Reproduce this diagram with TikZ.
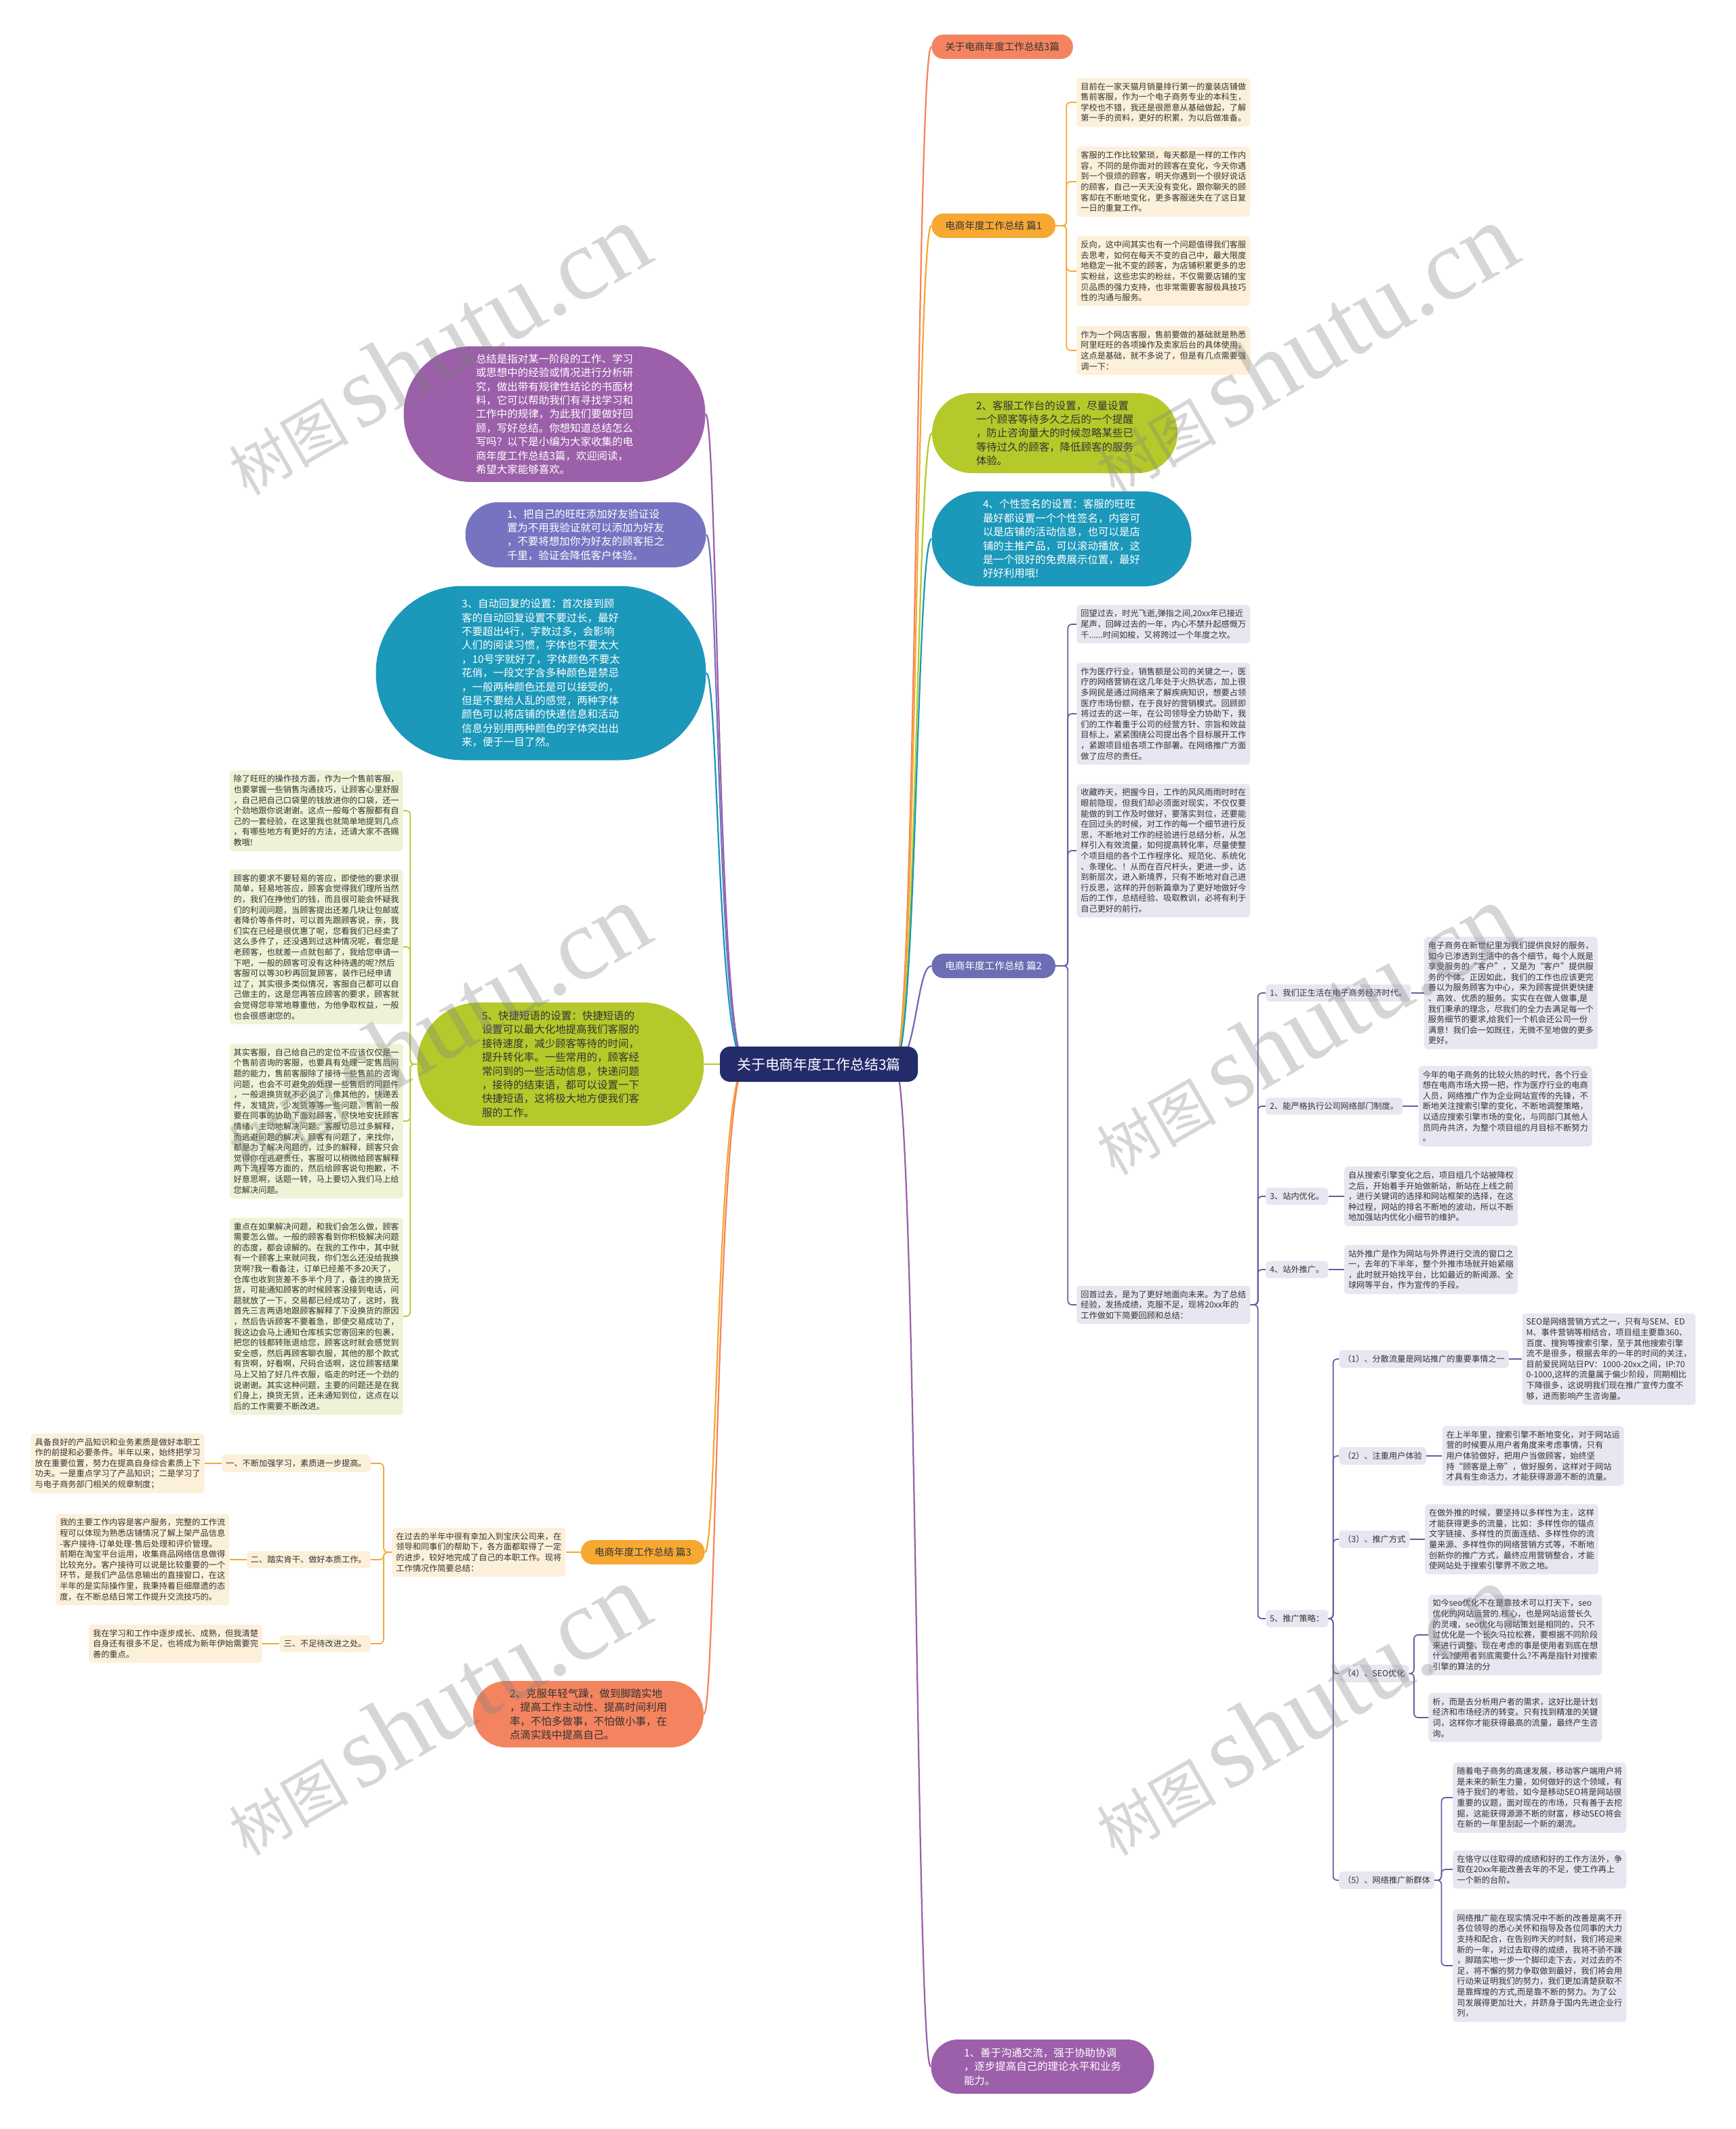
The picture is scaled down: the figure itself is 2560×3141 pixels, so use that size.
\documentclass[tikz,border=0pt]{standalone}
\usepackage{fontspec}
\setmainfont{Noto Sans CJK SC}
\newfontfamily\wmfont{Liberation Serif}
\usepackage{xcolor}
\usetikzlibrary{positioning, backgrounds}

\definecolor{rootblue}{HTML}{242B6B}
\definecolor{coral}{HTML}{F4845F}
\definecolor{amber}{HTML}{F6A833}
\definecolor{lime}{HTML}{B5C92B}
\definecolor{seablue}{HTML}{1B98BA}
\definecolor{slate}{HTML}{6C6EB3}
\definecolor{slateline}{HTML}{5E609E}
\definecolor{plum}{HTML}{9C5FA9}
\definecolor{iris}{HTML}{7674C1}
\definecolor{cream}{HTML}{FDF0DA}
\definecolor{lilac}{HTML}{E7E7F2}
\definecolor{paleLime}{HTML}{F0F2D7}
\definecolor{ink}{HTML}{333333}

\begin{document}
\begin{tikzpicture}[x=0.2mm, y=-0.2mm,
  note/.style={font=\fontsize{6.94pt}{8.88pt}\selectfont, align=left, inner xsep=1.2mm, inner ysep=1.4mm, rounded corners=1mm, text=ink},
  branch/.style={font=\fontsize{8.3pt}{10pt}\selectfont, rounded corners=3.5mm, minimum height=7.2mm, inner xsep=4mm, inner ysep=0mm},
  bubble/.style={font=\fontsize{8.8pt}{11.6pt}\selectfont, align=left, inner sep=0pt},
  link/.style={line width=0.45mm},
  brace/.style={line width=0.35mm, rounded corners=1.2mm},
  node distance=4.4mm
]
  \useasboundingbox (0,0) rectangle (2560,3141);

  \node[fill=rootblue, text=white, font=\fontsize{11.9pt}{14pt}\selectfont, rounded corners=3mm, minimum width=58.4mm, minimum height=10.4mm] (root) at (1208,1570) {关于电商年度工作总结3篇};

  % right side
  \node[branch, fill=coral, text=ink, anchor=west] (title) at (1374,69) {关于电商年度工作总结3篇};
  \node[branch, fill=amber, text=ink, anchor=west] (pian1) at (1374,333) {电商年度工作总结 篇1};
  \node[note, fill=cream, anchor=west] (n1a) at (1588,151) {目前在一家天猫月销量排行第一的童装店铺做\\售前客服，作为一个电子商务专业的本科生，\\学校也不错，我还是很愿意从基础做起，了解\\第一手的资料，更好的积累，为以后做准备。};
  \node[note, fill=cream, anchor=west] (n1b) at (1588,268) {客服的工作比较繁琐，每天都是一样的工作内\\容，不同的是你面对的顾客在变化，今天你遇\\到一个很烦的顾客，明天你遇到一个很好说话\\的顾客，自己一天天没有变化，跟你聊天的顾\\客却在不断地变化，更多客服迷失在了这日复\\一日的重复工作。};
  \node[note, fill=cream, anchor=west] (n1c) at (1588,400) {反向，这中间其实也有一个问题值得我们客服\\去思考，如何在每天不变的自己中，最大限度\\地稳定一批不变的顾客，为店铺积累更多的忠\\实粉丝，这些忠实的粉丝，不仅需要店铺的宝\\贝品质的强力支持，也非常需要客服极具技巧\\性的沟通与服务。};
  \node[note, fill=cream, anchor=west] (n1d) at (1588,517) {作为一个网店客服，售前要做的基础就是熟悉\\阿里旺旺的各项操作及卖家后台的具体使用，\\这点是基础，就不多说了，但是有几点需要强\\调一下：};

  \node[bubble, fill=lime, text=ink, minimum width=72.4mm, minimum height=23.6mm, rounded corners=11.7mm] (desk) at (1556,639) {2、客服工作台的设置，尽量设置\\一个顾客等待多久之后的一个提醒\\，防止咨询量大的时候忽略某些已\\等待过久的顾客，降低顾客的服务\\体验。};
  \node[bubble, fill=seablue, text=white, minimum width=76.6mm, minimum height=28mm, rounded corners=13.9mm] (sign) at (1566,795) {4、个性签名的设置：客服的旺旺\\最好都设置一个个性签名，内容可\\以是店铺的活动信息，也可以是店\\铺的主推产品，可以滚动播放，这\\是一个很好的免费展示位置，最好\\好好利用哦!};

  \node[branch, fill=slate, text=white, anchor=west] (pian2) at (1374,1425) {电商年度工作总结 篇2};
  \node[note, fill=lilac, anchor=west] (n2a) at (1588,921) {回望过去，时光飞逝,弹指之间,20xx年已接近\\尾声，回眸过去的一年，内心不禁升起感慨万\\千......时间如梭，又将跨过一个年度之坎。};
  \node[note, fill=lilac, anchor=west] (n2b) at (1588,1053) {作为医疗行业，销售额是公司的关键之一，医\\疗的网络营销在这几年处于火热状态，加上很\\多网民是通过网络来了解疾病知识，想要占领\\医疗市场份额，在于良好的营销模式。回顾即\\将过去的这一年，在公司领导全力协助下，我\\们的工作着重于公司的经营方针、宗旨和效益\\目标上，紧紧围绕公司提出各个目标展开工作\\，紧跟项目组各项工作部署。在网络推广方面\\做了应尽的责任。};
  \node[note, fill=lilac, anchor=west] (n2c) at (1588,1255) {收藏昨天，把握今日，工作的风风雨雨时时在\\眼前隐现，但我们却必须面对现实，不仅仅要\\能做的到工作及时做好，要落实到位，还要能\\在回过头的时候，对工作的每一个细节进行反\\思，不断地对工作的经验进行总结分析，从怎\\样引入有效流量，如何提高转化率，尽量使整\\个项目组的各个工作程序化、规范化、系统化\\、条理化、！从而在百尺杆头，更进一步，达\\到新层次，进入新境界，只有不断地对自己进\\行反思，这样的开创新篇章为了更好地做好今\\后的工作，总结经验、吸取教训，必将有利于\\自己更好的前行。};
  \node[note, fill=lilac, anchor=west] (n2d) at (1588,1925) {回首过去，是为了更好地面向未来。为了总结\\经验，发扬成绩，克服不足，现将20xx年的\\工作做如下简要回顾和总结：};

  \node[note, fill=lilac, anchor=west] (e1) at (1867,1465) {1、我们正生活在电子商务经济时代。};
  \node[note, fill=lilac, right=3.8mm of e1] (e1t) {电子商务在新世纪里为我们提供良好的服务，\\如今已渗透到生活中的各个细节，每个人既是\\享受服务的“客户”，又是为“客户”提供服\\务的个体。正因如此，我们的工作也应该更完\\善以为服务顾客为中心，来为顾客提供更快捷\\、高效、优质的服务。实实在在做人做事,是\\我们秉承的理念，尽我们的全力去满足每一个\\服务细节的要求,给我们一个机会还公司一份\\满意！我们会一如既往，无微不至地做的更多\\更好。};
  \node[note, fill=lilac, anchor=west] (e2) at (1867,1632) {2、能严格执行公司网络部门制度。};
  \node[note, fill=lilac, right=4.6mm of e2] (e2t) {今年的电子商务的比较火热的时代，各个行业\\想在电商市场大捞一把，作为医疗行业的电商\\人员，网络推广作为企业网站宣传的先锋，不\\断地关注搜索引擎的变化，不断地调整策略，\\以适应搜索引擎市场的变化，与同部门其他人\\员同舟共济，为整个项目组的月目标不断努力\\。};
  \node[note, fill=lilac, anchor=west] (e3) at (1867,1765) {3、站内优化。};
  \node[note, fill=lilac, right=4.6mm of e3] (e3t) {自从搜索引擎变化之后，项目组几个站被降权\\之后，开始着手开始做新站，新站在上线之前\\，进行关键词的选择和网站框架的选择，在这\\种过程，网站的排名不断地的波动，所以不断\\地加强站内优化小细节的维护。};
  \node[note, fill=lilac, anchor=west] (e4) at (1867,1873) {4、站外推广。};
  \node[note, fill=lilac, right=4.6mm of e4] (e4t) {站外推广是作为网站与外界进行交流的窗口之\\一，去年的下半年，整个外推市场就开始紧缩\\，此时就开始找平台，比如最近的新闻源、全\\球网等平台，作为宣传的手段。};
  \node[note, fill=lilac, anchor=west] (e5) at (1867,2388) {5、推广策略：};

  \node[note, fill=lilac, anchor=west] (s1) at (1975,2005) {（1）、分散流量是网站推广的重要事情之一};
  \node[note, fill=lilac, right=3.8mm of s1] (s1t) {SEO是网络营销方式之一，只有与SEM、ED\\M、事件营销等相结合，项目组主要靠360、\\百度、搜狗等搜索引擎，至于其他搜索引擎\\流不是很多，根据去年的一年的时间的关注，\\目前爱民网站日PV：1000-20xx之间，IP:70\\0-1000,这样的流量属于偏少阶段，同期相比\\下降很多，这说明我们现在推广宣传力度不\\够，进而影响产生咨询量。};
  \node[note, fill=lilac, anchor=west] (s2) at (1975,2148) {（2）、注重用户体验};
  \node[note, fill=lilac, right=4.6mm of s2] (s2t) {在上半年里，搜索引擎不断地变化，对于网站运\\营的时候要从用户者角度来考虑事情，只有\\用户体验做好，把用户当做顾客，始终坚\\持“顾客是上帝”，做好服务，这样对于网站\\才具有生命活力，才能获得源源不断的流量。};
  \node[note, fill=lilac, anchor=west] (s3) at (1975,2271) {（3）、推广方式};
  \node[note, fill=lilac, right=4.4mm of s3] (s3t) {在做外推的时候，要坚持以多样性为主，这样\\才能获得更多的流量，比如：多样性你的锚点\\文字链接、多样性的页面连结、多样性你的流\\量来源、多样性你的网络营销方式等，不断地\\创新你的推广方式，最终应用营销整合，才能\\使网站处于搜索引擎界不败之地。};
  \node[note, fill=lilac, anchor=west] (s4) at (1975,2469) {（4）、SEO优化};
  \node[note, fill=lilac, anchor=west] (s4a) at (2107,2412) {如今seo优化不在是靠技术可以打天下，seo\\优化的网站运营的.核心，也是网站运营长久\\的灵魂，seo优化与网站策划是相同的，只不\\过优化是一个长久马拉松赛，要根据不同阶段\\来进行调整，现在考虑的事是使用者到底在想\\什么?使用者到底需要什么?不再是指针对搜索\\引擎的算法的分};
  \node[note, fill=lilac, anchor=west] (s4b) at (2107,2534) {析，而是去分析用户者的需求，这好比是计划\\经济和市场经济的转变。只有找到精准的关键\\词，这样你才能获得最高的流量，最终产生咨\\询。};
  \node[note, fill=lilac, anchor=west] (s5) at (1975,2774) {（5）、网络推广新群体};
  \node[note, fill=lilac, anchor=west] (s5a) at (2143,2652) {随着电子商务的高速发展，移动客户端用户将\\是未来的新生力量，如何做好的这个领域，有\\待于我们的考验，如今是移动SEO将是网站很\\重要的议题，面对现在的市场，只有善于去挖\\掘，这能获得源源不断的财富，移动SEO将会\\在新的一年里刮起一个新的潮流。};
  \node[note, fill=lilac, anchor=west] (s5b) at (2143,2758) {在恪守以往取得的成绩和好的工作方法外，争\\取在20xx年能改善去年的不足，使工作再上\\一个新的台阶。};
  \node[note, fill=lilac, anchor=west] (s5c) at (2143,2900) {网络推广能在现实情况中不断的改善是离不开\\各位领导的悉心关怀和指导及各位同事的大力\\支持和配合，在告别昨天的时刻，我们将迎来\\新的一年，对过去取得的成绩，我将不骄不躁\\，脚踏实地一步一个脚印走下去，对过去的不\\足，将不懈的努力争取做到最好，我们将会用\\行动来证明我们的努力，我们更加清楚获取不\\是靠辉煌的方式,而是靠不断的努力。为了公\\司发展得更加壮大，并跻身于国内先进企业行\\列，};

  \node[bubble, fill=plum, text=white, minimum width=65.8mm, minimum height=16mm, rounded corners=7.9mm] (skill) at (1538,3049) {1、善于沟通交流，强于协助协调\\，逐步提高自己的理论水平和业务\\能力。};

  % left side
  \node[bubble, fill=plum, text=white, minimum width=89mm, minimum height=40mm, rounded corners=19.9mm] (intro) at (818,611) {总结是指对某一阶段的工作、学习\\或思想中的经验或情况进行分析研\\究，做出带有规律性结论的书面材\\料，它可以帮助我们有寻找学习和\\工作中的规律，为此我们要做好回\\顾，写好总结。你想知道总结怎么\\写吗？以下是小编为大家收集的电\\商年度工作总结3篇，欢迎阅读，\\希望大家能够喜欢。};
  \node[bubble, fill=iris, text=white, minimum width=71mm, minimum height=19.2mm, rounded corners=9.5mm] (friend) at (864,789) {1、把自己的旺旺添加好友验证设\\置为不用我验证就可以添加为好友\\，不要将想加你为好友的顾客拒之\\千里，验证会降低客户体验。};
  \node[bubble, fill=seablue, text=white, minimum width=97.4mm, minimum height=51.4mm, rounded corners=25.6mm] (reply) at (798,993) {3、自动回复的设置：首次接到顾\\客的自动回复设置不要过长，最好\\不要超出4行，字数过多，会影响\\人们的阅读习惯，字体也不要太大\\，10号字就好了，字体颜色不要太\\花俏，一段文字含多种颜色是禁忌\\，一般两种颜色还是可以接受的，\\但是不要给人乱的感觉，两种字体\\颜色可以将店铺的快递信息和活动\\信息分别用两种颜色的字体突出出\\来，便于一目了然。};
  \node[bubble, fill=lime, text=ink, minimum width=84.6mm, minimum height=36.4mm, rounded corners=18.1mm] (quick) at (827,1570) {5、快捷短语的设置：快捷短语的\\设置可以最大化地提高我们客服的\\接待速度，减少顾客等待的时间，\\提升转化率。一些常用的，顾客经\\常问到的一些活动信息，快递问题\\，接待的结束语，都可以设置一下\\快捷短语，这将极大地方便我们客\\服的工作。};

  \node[note, fill=paleLime, anchor=east] (q1) at (595,1196) {除了旺旺的操作技方面，作为一个售前客服，\\也要掌握一些销售沟通技巧，让顾客心里舒服\\，自己把自己口袋里的钱放进你的口袋，还一\\个劲地跟你说谢谢。这点一般每个客服都有自\\己的一套经验，在这里我也就简单地提到几点\\，有哪些地方有更好的方法，还请大家不吝赐\\教哦!};
  \node[note, fill=paleLime, anchor=east] (q2) at (595,1397) {顾客的要求不要轻易的答应，即使他的要求很\\简单，轻易地答应，顾客会觉得我们理所当然\\的，我们在挣他们的钱，而且很可能会怀疑我\\们的利润问题，当顾客提出还差几块让包邮或\\者降价等条件时，可以首先跟顾客说，亲，我\\们实在已经是很优惠了呢，您看我们已经卖了\\这么多件了，还没遇到过这种情况呢，看您是\\老顾客，也就差一点就包邮了，我给您申请一\\下吧，一般的顾客可没有这种待遇的呢?然后\\客服可以等30秒再回复顾客，装作已经申请\\过了，其实很多类似情况，客服自己都可以自\\己做主的，这是您再答应顾客的要求，顾客就\\会觉得您非常地尊重他，为他争取权益，一般\\也会很感谢您的。};
  \node[note, fill=paleLime, anchor=east] (q3) at (595,1654) {其实客服，自己给自己的定位不应该仅仅是一\\个售前咨询的客服，也要具有处理一定售后问\\题的能力，售前客服除了接待一些售前的咨询\\问题，也会不可避免的处理一些售后的问题件\\，一般退换货就不必说了，像其他的，快递丢\\件，发错货，少发货等等一些问题，售前一般\\要在同事的协助下面对顾客，尽快地安抚顾客\\情绪，主动地解决问题。客服切忌过多解释，\\而逃避问题的解决，顾客有问题了，来找你，\\都是为了解决问题的，过多的解释，顾客只会\\觉得你在逃避责任，客服可以稍微给顾客解释\\两下流程等方面的，然后给顾客说句抱歉，不\\好意思啊，话题一转，马上要切入我们马上给\\您解决问题。};
  \node[note, fill=paleLime, anchor=east] (q4) at (595,1942) {重点在如果解决问题，和我们会怎么做，顾客\\需要怎么做。一般的顾客看到你积极解决问题\\的态度，都会谅解的。在我的工作中，其中就\\有一个顾客上来就问我，你们怎么还没给我换\\货啊?我一看备注，订单已经差不多20天了，\\仓库也收到货差不多半个月了，备注的换货无\\货，可能通知顾客的时候顾客没接到电话，问\\题就放了一下，交易都已经成功了，这时，我\\首先三言两语地跟顾客解释了下没换货的原因\\，然后告诉顾客不要着急，即使交易成功了，\\我这边会马上通知仓库核实您寄回来的包裹，\\把您的钱都转账退给您，顾客这时就会感觉到\\安全感，然后再顾客聊衣服，其他的那个款式\\有货啊，好看啊，尺码合适啊，这位顾客结果\\马上又拍了好几件衣服，临走的时还一个劲的\\说谢谢。其实这种问题，主要的问题还是在我\\们身上，换货无货，还未通知到位，这点在以\\后的工作需要不断改进。};

  \node[branch, fill=amber, text=ink, anchor=east] (pian3) at (1040,2290) {电商年度工作总结 篇3};
  \node[note, fill=cream, left=of pian3] (n3) {在过去的半年中很有幸加入到宝庆公司来，在\\领导和同事们的帮助下，各方面都取得了一定\\的进步，较好地完成了自己的本职工作。现将\\工作情况作简要总结：};
  \node[note, fill=cream, anchor=east] (k1) at (547,2159) {一、不断加强学习，素质进一步提高。};
  \node[note, fill=cream, left=5mm of k1] (k1t) {具备良好的产品知识和业务素质是做好本职工\\作的前提和必要条件。半年以来，始终把学习\\放在重要位置，努力在提高自身综合素质上下\\功夫。一是重点学习了产品知识；二是学习了\\与电子商务部门相关的规章制度；};
  \node[note, fill=cream, anchor=east] (k2) at (547,2301) {二、踏实肯干、做好本质工作。};
  \node[note, fill=cream, left=5mm of k2] (k2t) {我的主要工作内容是客户服务，完整的工作流\\程可以体现为熟悉店铺情况了解上架产品信息\\-客户接待-订单处理-售后处理和评价管理。\\前期在淘宝平台运用，收集商品网络信息做得\\比较充分。客户接待可以说是比较重要的一个\\环节，是我们产品信息输出的直接窗口，在这\\半年的是实际操作里，我秉持着巨细靡遗的态\\度，在不断总结日常工作提升交流技巧的。};
  \node[note, fill=cream, anchor=east] (k3) at (547,2425) {三、不足待改进之处。};
  \node[note, fill=cream, left=5mm of k3] (k3t) {我在学习和工作中逐步成长、成熟，但我清楚\\自身还有很多不足，也将成为新年伊始需要完\\善的重点。};

  \node[bubble, fill=coral, text=ink, minimum width=68mm, minimum height=19.6mm, rounded corners=9.7mm] (overcome) at (868,2529) {2、克服年轻气躁，做到脚踏实地\\，提高工作主动性、提高时间利用\\率，不怕多做事，不怕做小事，在\\点滴实践中提高自己。};

  % connectors
  \begin{scope}[on background layer]
    \foreach \n/\c in {title/coral, pian1/amber, desk/lime, sign/seablue, pian2/slate, skill/plum}
      \draw[link, \c] (1320,1570) .. controls (1352,1570) and ([xshift=-4.4mm]\n.west) .. (\n.west);
    \foreach \n/\c in {intro/plum, friend/iris, reply/seablue, pian3/amber, overcome/coral}
      \draw[link, \c] (1100,1570) .. controls (1058,1570) and ([xshift=3.6mm]\n.east) .. (\n.east);
    \draw[link, lime] (root.west) -- (quick.east);
  \end{scope}

  \foreach \t in {n1a,n1b,n1c,n1d}
    \draw[brace, amber] (pian1.east) -- ++(16,0) |- (\t.west);
  \foreach \t in {n2a,n2b,n2c,n2d}
    \draw[brace, slateline] (pian2.east) -- ++(18,0) |- (\t.west);
  \foreach \t in {e1,e2,e3,e4,e5}
    \draw[brace, slateline] (n2d.east) -- ++(11,0) |- (\t.west);
  \foreach \t in {e1,e2,e3,e4,s1,s2,s3}
    \draw[brace, slateline] (\t.east) -- (\t t.west);
  \foreach \t in {s1,s2,s3,s4,s5}
    \draw[brace, slateline] (e5.east) -- ++(7,0) |- (\t.west);
  \foreach \t in {s4a,s4b}
    \draw[brace, slateline] (s4.east) -- ++(7,0) |- (\t.west);
  \foreach \t in {s5a,s5b,s5c}
    \draw[brace, slateline] (s5.east) -- ++(10,0) |- (\t.west);

  \foreach \t in {q1,q2,q3,q4}
    \draw[brace, lime] (quick.west) -- ++(-10,0) |- (\t.east);
  \draw[brace, amber] (pian3.west) -- (n3.east);
  \foreach \t in {k1,k2,k3}
    \draw[brace, amber] (n3.west) -- ++(-12,0) |- (\t.east);
  \foreach \t in {k1,k2,k3}
    \draw[brace, amber] (\t.west) -- (\t t.east);

  % watermarks
  \foreach \wx/\wy [count=\i] in {643/515, 1923/515, 643/1518, 1923/1518, 643/2522, 1923/2522}
    \node[rotate=30, text=gray, opacity=0.32] (wm\i) at (\wx,\wy)
      {\fontsize{50pt}{50pt}\selectfont 树图\hspace{3mm}{\wmfont\fontsize{86pt}{86pt}\selectfont shutu.cn}};
\end{tikzpicture}
\end{document}
